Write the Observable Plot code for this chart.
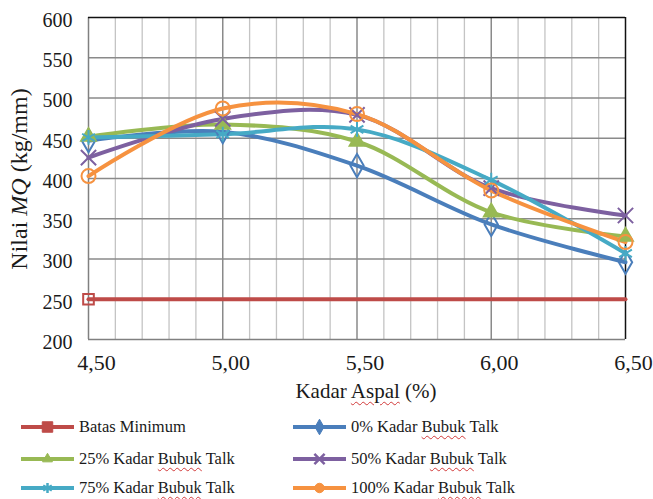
<!DOCTYPE html>
<html>
<head>
<meta charset="utf-8">
<script src="https://cdn.jsdelivr.net/npm/d3@7"></script>
<script src="https://cdn.jsdelivr.net/npm/@observablehq/plot@0.6"></script>
<style>
  html, body { margin: 0; padding: 0; background: #fff; }
  #wrap { position: relative; width: 653px; height: 499px; overflow: hidden; font-family: "Liberation Serif", "Times New Roman", Times, serif; color: #1a1a1a; }
  #chart { position: absolute; left: 0; top: 0; }
  #chart svg text { font-family: "Liberation Serif", "Times New Roman", Times, serif; }
  .wavy { text-decoration: underline wavy #d23a3a; text-decoration-thickness: 1px; text-underline-offset: 3px; }
  #xlabel { position: absolute; top: 379px; left: 366px; transform: translateX(-50%); font-size: 21px; white-space: nowrap; }
  .leg { position: absolute; display: flex; align-items: center; font-size: 16.5px; white-space: nowrap; }
  .leg svg { margin-right: 5px; }
</style>
</head>
<body>
<div id="wrap">
  <div id="chart"></div>
  <div id="xlabel">Kadar <span class="wavy">Aspal</span> (%)</div>
  <div id="legend"></div>
</div>
<script>
// ---- data ----
const kadarAspal = [4.5, 5.0, 5.5, 6.0, 6.5];
const batasMinimum = [250, 250, 250, 250, 250];
const talk0 = [447, 458, 416, 343, 296];
const talk25 = [452, 467, 446, 358, 328];
const talk50 = [426, 474, 479, 388, 354];
const talk75 = [451, 455, 461, 398, 307];
const talk100 = [403, 487, 480, 385, 321];
const xTicks = [4.5, 5.0, 5.5, 6.0, 6.5];
const yTicks = [200, 250, 300, 350, 400, 450, 500, 550, 600];
const seriesNames = ["Batas Minimum", "0% Kadar Bubuk Talk", "25% Kadar Bubuk Talk", "50% Kadar Bubuk Talk", "75% Kadar Bubuk Talk", "100% Kadar Bubuk Talk"];

const seriesValues = [batasMinimum, talk0, talk25, talk50, talk75, talk100];
const colors = ["#BE4B48", "#4A7EBB", "#98B954", "#7D60A0", "#46AAC5", "#F69240"];
const symbols = ["square", "diamond", "triangle2", "times", "asterisk", "circle"];
const FONT = "'Liberation Serif', 'Times New Roman', Times, serif";

const rows = [];
seriesValues.forEach((vals, i) => {
  vals.forEach((v, j) => rows.push({ s: seriesNames[i], i, x: kadarAspal[j], y: v }));
});

const minorX = d3.range(45, 66).map(d => d / 10).filter(d => Math.abs(d * 2 - Math.round(d * 2)) > 1e-6);
const majorX = xTicks.slice(1, -1);

const marks = [
  Plot.ruleX(minorX, { stroke: "#c4c4c4", strokeWidth: 1.3 }),
  Plot.ruleX(majorX, { stroke: "#8a8a8a", strokeWidth: 1.5 }),
  Plot.ruleY(yTicks.slice(1, -1), { stroke: "#8a8a8a", strokeWidth: 1.5 }),
  Plot.ruleY([200], { stroke: "#808080", strokeWidth: 1.5 }),
  Plot.ruleX([4.5], { stroke: "#808080", strokeWidth: 1.5 }),
  Plot.ruleY([600], { stroke: "#111", strokeWidth: 1.5 }),
  Plot.ruleX([6.5], { stroke: "#111", strokeWidth: 1.5 }),
];
seriesValues.forEach((vals, i) => {
  const d = rows.filter(r => r.i === i);
  marks.push(Plot.line(d, { x: "x", y: "y", stroke: colors[i], strokeWidth: 4, curve: i === 0 ? "linear" : "catmull-rom" }));
});
seriesValues.forEach((vals, i) => {
  const d = rows.filter(r => r.i === i && (i !== 0 || r.x === 4.5));
  const filled = symbols[i] === "triangle2";
  marks.push(Plot.dot(d, { x: "x", y: "y", symbol: () => symbols[i], r: i === 0 ? 6 : 7, stroke: colors[i], strokeWidth: 2, fill: filled ? colors[i] : "none" }));
});
marks.push(Plot.axisX(xTicks, { tickSize: 0, tickPadding: 15, fontSize: 22, dx: 8, tickFormat: d => d.toFixed(2).replace(".", ","), label: null }));
marks.push(Plot.axisY(yTicks, { tickSize: 0, tickPadding: 16, fontSize: 20, dy: 3, label: null }));

const chart = Plot.plot({
  width: 653,
  height: 372,
  marginLeft: 88,
  marginRight: 28,
  marginTop: 17,
  marginBottom: 33,
  x: { domain: [4.5, 6.5] },
  y: { domain: [200, 600] },
  style: { fontFamily: FONT, color: "#1a1a1a", background: "white", overflow: "visible" },
  marks
});
document.getElementById("chart").appendChild(chart);

// y-axis title with italic MQ
const svg = d3.select(chart);
const yt = svg.append("text")
  .attr("transform", "translate(27,179) rotate(-90)")
  .attr("text-anchor", "middle")
  .attr("font-size", 24)
  .attr("font-family", FONT)
  .attr("fill", "#1a1a1a");
yt.append("tspan").text("Nilai ");
yt.append("tspan").attr("font-style", "italic").text("MQ");
yt.append("tspan").text(" (kg/mm)");

// legend
const legend = document.getElementById("legend");
const pos = [[21, 427], [293, 427], [21, 459], [293, 459], [21, 488], [293, 488]];
seriesNames.forEach((name, i) => {
  const div = document.createElement("div");
  div.className = "leg";
  div.style.left = pos[i][0] + "px";
  div.style.top = (pos[i][1] - 11) + "px";
  const sw = d3.create("svg").attr("width", 53).attr("height", 22);
  sw.append("line").attr("x1", 0).attr("x2", 53).attr("y1", 11).attr("y2", 11).attr("stroke", colors[i]).attr("stroke-width", 4);
  const sym = {
    square: d3.symbolSquare, diamond: d3.symbolDiamond, triangle2: d3.symbolTriangle2,
    times: d3.symbolTimes, asterisk: d3.symbolAsterisk, circle: d3.symbolCircle
  }[symbols[i]];
  const line = ["times", "asterisk"].includes(symbols[i]);
  sw.append("path").attr("d", d3.symbol(sym, i === 0 ? 110 : 70)()).attr("transform", "translate(26.5,11)")
    .attr("fill", line ? "none" : colors[i]).attr("stroke", colors[i]).attr("stroke-width", line ? 2.5 : 1);
  div.appendChild(sw.node());
  const span = document.createElement("span");
  if (name.includes("Bubuk")) {
    const parts = name.split("Bubuk");
    span.append(parts[0]);
    const w = document.createElement("span"); w.className = "wavy"; w.textContent = "Bubuk";
    span.append(w);
    span.append(parts[1]);
  } else span.textContent = name;
  div.appendChild(span);
  legend.appendChild(div);
});
</script>
</body>
</html>
